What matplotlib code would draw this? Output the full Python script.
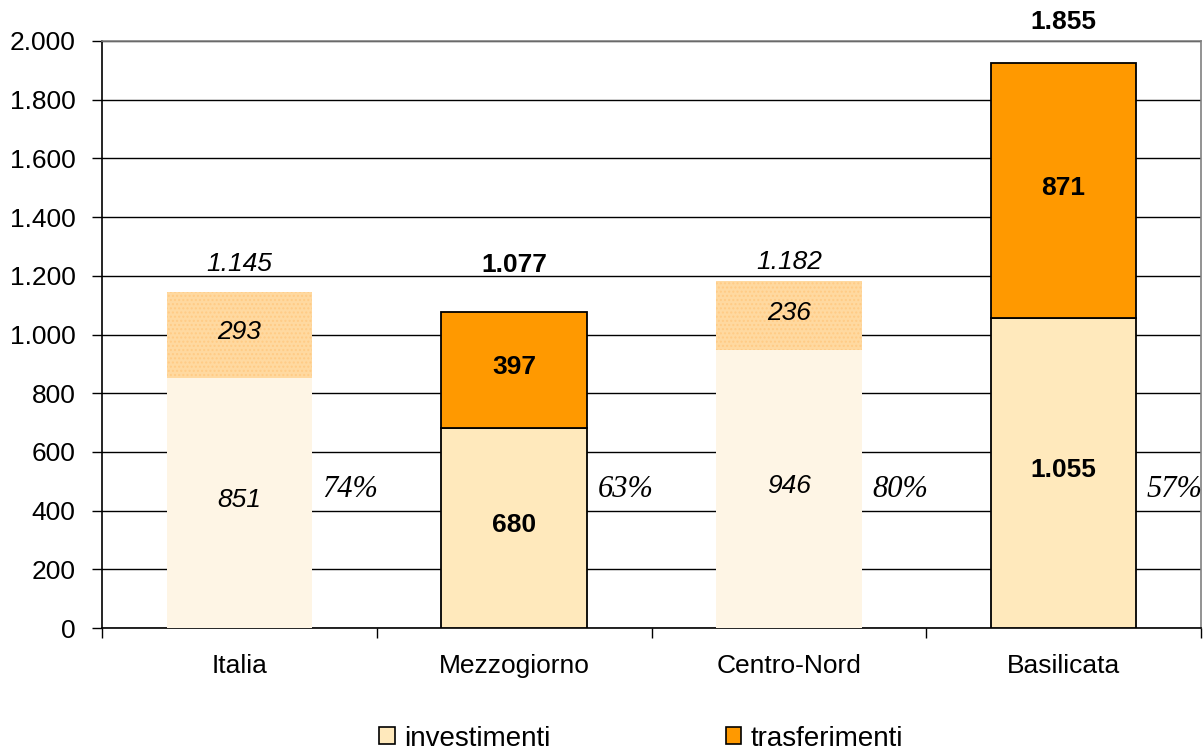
import matplotlib.pyplot as plt
import numpy as np
from matplotlib.patches import Patch

plt.rcParams['font.family'] = ['Liberation Sans', 'DejaVu Sans']

# Data
categories = ["Italia", "Mezzogiorno", "Centro-Nord", "Basilicata"]
investimenti = [851, 680, 946, 1055]
trasferimenti = [293, 397, 236, 871]
totali = ["1.145", "1.077", "1.182", "1.855"]
inv_labels = ["851", "680", "946", "1.055"]
tra_labels = ["293", "397", "236", "871"]
quote = ["74%", "63%", "80%", "57%"]
evidenziati = [False, True, False, True]

# vertical position of the total labels (as in the original chart)
pos_totali = [1240, 1237, 1247, 2065]

fig = plt.figure(figsize=(12.03, 7.53), dpi=100)
ax = fig.add_axes([102 / 1203, 1 - 628 / 753, 1 - 102 / 1203 - 2 / 1203, (628 - 41) / 753])

x = np.arange(len(categories))
width = 0.53

for i in range(len(categories)):
    if evidenziati[i]:
        ax.bar(x[i], investimenti[i], width, color="#FFE9BC", edgecolor="black", linewidth=1.3, zorder=3)
        ax.bar(x[i], trasferimenti[i], width, bottom=investimenti[i], color="#FF9900",
               edgecolor="black", linewidth=1.3, zorder=3)
        style = dict(fontsize=19, fontweight="bold")
    else:
        ax.bar(x[i], investimenti[i], width, color="#FEF5E5", linewidth=0, zorder=3)
        ax.bar(x[i], trasferimenti[i], width, bottom=investimenti[i], color="#FFD9A0",
               edgecolor="#FFCB85", hatch="....", linewidth=0, zorder=3)
        style = dict(fontsize=19, fontstyle="italic")

    ax.text(x[i], investimenti[i] / 2 + 12, inv_labels[i], ha="center", va="center", zorder=4, **style)
    ax.text(x[i], investimenti[i] + trasferimenti[i] / 2 + 10, tra_labels[i], ha="center", va="center",
            zorder=4, **style)
    ax.text(x[i], pos_totali[i], totali[i], ha="center", va="center",
            zorder=4, clip_on=False, **style)
    ax.text(x[i] + 0.405, 472, quote[i], ha="center", va="center", fontsize=22, fontstyle="italic",
            family="Liberation Serif", zorder=4)

ax.set_xlim(-0.5, 3.5)
ax.set_ylim(0, 2000)
ax.set_yticks(np.arange(0, 2001, 200))
ax.set_yticklabels(["0", "200", "400", "600", "800", "1.000", "1.200", "1.400", "1.600", "1.800", "2.000"])
ax.yaxis.grid(True, color="black", linewidth=1, zorder=0)
ax.set_axisbelow(True)

ax.set_xticks(x)
ax.set_xticklabels(categories)
ax.set_xticks(np.arange(-0.5, 3.6, 1), minor=True)
ax.tick_params(axis="x", which="major", length=0, pad=19, labelsize=19)
ax.tick_params(axis="x", which="minor", length=7, width=1, direction="out")
ax.tick_params(axis="y", length=7, width=1, direction="out", labelsize=19, pad=12)

ax.spines["left"].set_color("black")
ax.spines["bottom"].set_color("black")
ax.spines["top"].set_color("#808080")
ax.spines["right"].set_color("#808080")
for s in ax.spines.values():
    s.set_linewidth(1.2)

handles = [Patch(facecolor="#FFE9BC", edgecolor="black", linewidth=1.2),
           Patch(facecolor="#FF9900", edgecolor="black", linewidth=1.2)]
fig.legend(handles, ["investimenti", "trasferimenti"], loc="center", bbox_to_anchor=(0.533, 0.019),
           ncol=2, frameon=False, fontsize=20, columnspacing=6.3, handlelength=0.55, handleheight=0.55,
           handletextpad=0.35)

plt.savefig("out.png", dpi=100)
